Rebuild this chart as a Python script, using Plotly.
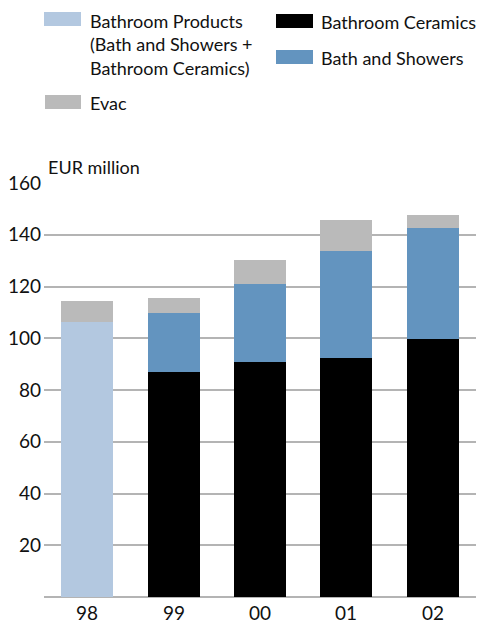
import plotly.graph_objects as go

years = ["98", "99", "00", "01", "02"]
bathroom_products = [106.3, None, None, None, None]
bathroom_ceramics = [None, 87.0, 90.8, 92.4, 99.7]
bath_showers = [None, 22.8, 30.2, 41.3, 42.9]
evac = [8.1, 5.8, 9.2, 12.0, 5.0]
y_ticks = [20, 40, 60, 80, 100, 120, 140, 160]

C_PROD = "#b3c8e0"
C_CER = "#000000"
C_BATH = "#6394bf"
C_EVAC = "#bababa"
FONT = "Lato"
FS = 18
TFS = 19
TXT = "#111111"

W, H = 480, 624
ML, MR, MT, MB = 44, 4, 183, 27
PW, PH = W - ML - MR, H - MT - MB

def px(x):
    return (x - ML) / PW

def py(y):
    return (H - MB - y) / PH

fig = go.Figure()
for name, vals, col in [
    ("Bathroom Products (Bath and Showers + Bathroom Ceramics)", bathroom_products, C_PROD),
    ("Bathroom Ceramics", bathroom_ceramics, C_CER),
    ("Bath and Showers", bath_showers, C_BATH),
    ("Evac", evac, C_EVAC),
]:
    fig.add_trace(go.Bar(x=years, y=vals, name=name, marker=dict(color=col, line=dict(width=0)),
                         showlegend=False))

fig.update_layout(
    barmode="stack",
    bargap=0.4,
    width=W, height=H,
    margin=dict(l=ML, r=MR, t=MT, b=MB, pad=0),
    plot_bgcolor="white", paper_bgcolor="white",
    font=dict(family=FONT, size=FS, color=TXT),
    xaxis=dict(type="category", range=[-0.5, len(years) - 0.5], showgrid=False, ticks="",
               showticklabels=False, showline=False, automargin=False),
    yaxis=dict(range=[0, 160], tickvals=y_ticks, showgrid=True, gridcolor="#b4b4b4",
               gridwidth=1.5, zeroline=True, zerolinecolor="#b4b4b4", zerolinewidth=1.5,
               tickfont=dict(size=TFS, color=TXT), ticks="", showline=False, automargin=False,
               ticklabelstandoff=2),
)

# x category labels as text just below the axis (category index positions)
for i, yr in enumerate(years):
    fig.add_annotation(xref="x", yref="paper", x=i, y=py(612), text=yr, showarrow=False,
                       xanchor="center", yanchor="middle",
                       font=dict(size=TFS, family=FONT, color=TXT))

# Legend drawn as shapes + text
legend_items = [
    (44, 12, 81, 26, C_PROD, 88, 20, "Bathroom Products<br>(Bath and Showers +<br>Bathroom Ceramics)"),
    (45, 95, 81, 109, C_EVAC, 88, 102, "Evac"),
    (276, 14, 313, 28, C_CER, 319, 21, "Bathroom Ceramics"),
    (276, 50, 313, 64, C_BATH, 319, 57, "Bath and Showers"),
]
for x0, y0, x1, y1, col, tx, ty, txt in legend_items:
    fig.add_shape(type="rect", xref="paper", yref="paper", x0=px(x0), x1=px(x1),
                  y0=py(y1), y1=py(y0), fillcolor=col, line=dict(width=0))
    fig.add_annotation(xref="paper", yref="paper", x=px(tx), y=py(ty - 12), text=txt,
                       showarrow=False, xanchor="left", yanchor="top", align="left",
                       font=dict(size=FS, family=FONT, color=TXT))

fig.add_annotation(xref="paper", yref="paper", x=px(46), y=py(167), text="EUR million",
                   showarrow=False, xanchor="left", yanchor="middle",
                   font=dict(size=FS, family=FONT, color=TXT))

fig.write_html("out.html", config={"displayModeBar": False},
               post_script="document.body.style.margin='0';")
